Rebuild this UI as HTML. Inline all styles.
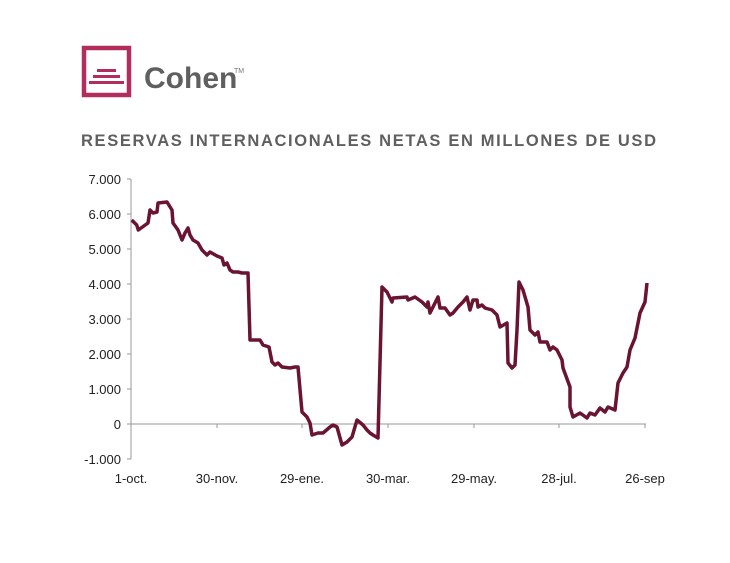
<!DOCTYPE html><html><head><style>body{margin:0;background:#fff;width:730px;height:558px;overflow:hidden;font-family:"Liberation Sans",sans-serif}</style></head><body>
<svg width="730" height="558" xmlns="http://www.w3.org/2000/svg">
<rect x="84" y="48" width="45" height="47" fill="none" stroke="#b22d5b" stroke-width="4.5"/>
<rect x="97" y="69" width="19" height="3" fill="#b22d5b"/>
<rect x="93" y="75" width="27" height="3" fill="#b22d5b"/>
<rect x="89" y="81" width="35" height="3" fill="#b22d5b"/>
<text x="144" y="88" font-size="30" font-weight="bold" fill="#5f5f5f">Cohen</text>
<text x="234" y="73" font-size="7" fill="#777">TM</text>
<text x="81" y="146" font-size="16.5" font-weight="bold" fill="#5f5f5f" textLength="575">RESERVAS INTERNACIONALES NETAS EN MILLONES DE USD</text>
<g font-size="13" fill="#222" text-anchor="end">
<text x="121" y="184">7.000</text><text x="121" y="219">6.000</text><text x="121" y="254">5.000</text><text x="121" y="289">4.000</text><text x="121" y="324">3.000</text><text x="121" y="359">2.000</text><text x="121" y="394">1.000</text><text x="121" y="429">0</text><text x="121" y="464">-1.000</text>
</g>
<g stroke="#999" stroke-width="1" fill="none">
<path d="M131 179V459"/>
<path d="M127 179h4M127 214h4M127 249h4M127 284h4M127 319h4M127 354h4M127 389h4M127 424h4M127 459h4"/>
<path d="M131 424H646"/>
<path d="M217 424v4M302 424v4M388 424v4M474 424v4M559 424v4M645 424v4"/>
</g>
<g font-size="13" fill="#222" text-anchor="middle">
<text x="131" y="483">1-oct.</text><text x="217" y="483">30-nov.</text><text x="302" y="483">29-ene.</text><text x="388" y="483">30-mar.</text><text x="474" y="483">29-may.</text><text x="559" y="483">28-jul.</text><text x="645" y="483">26-sep</text>
</g>
<polyline fill="none" stroke="#6a1430" stroke-width="3.5" stroke-linejoin="round" points="131.7,220 136.7,225 138.3,230 148,223 150,210 153,213 157,212 158,203 167,202 172,210 173,223 178,230 182,240 185,233 188,228 190,235 193,240 198,243 202,250 207,255 210,252 217,256 222,258 224,265 227,263 230,270 233,272 238,272 242,273 248,273 250,340 255,340 260,340 263,345 269,347 272,362 275,365 278,363 282,367 290,368 295,367 298,367 302,412 307,417 310,423 312,435 318,433 323,433 330,427 333,425 337,427 342,445 347,442 352,437 357,420 363,425 367,430 370,433 373,435 378,438 382,287 387,292 392,302 393,298 407,297 408,300 415,297 422,302 427,307 428,302 430,313 435,303 438,297 440,308 445,308 450,315 453,313 458,307 463,302 467,297 470,310 473,300 477,300 478,307 482,305 485,308 492,310 497,315 500,327 507,323 508,363 512,368 515,365 517,330 519,282 523,290 528,307 530,330 535,335 538,332 540,342 547,342 550,350 553,347 557,350 562,360 563,368 570,387 570,407 573,417 580,413 587,418 590,413 595,415 600,408 605,412 608,407 615,410 618,383 623,373 627,367 630,350 635,338 640,313 645,302 647,283"/>
</svg>
</body></html>
